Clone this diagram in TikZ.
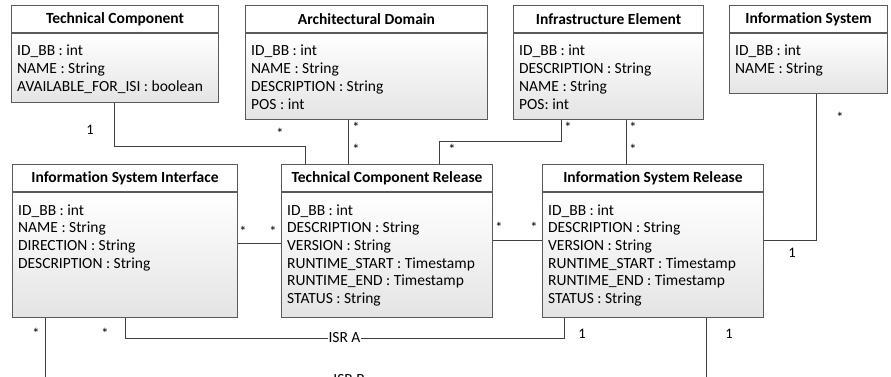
\documentclass[tikz,border=0pt]{standalone}
\usepackage{fontspec}
\setmainfont{Carlito}[Ligatures=NoCommon]
\usetikzlibrary{positioning}

\definecolor{boxline}{HTML}{5A5A5A}
\definecolor{boxshade}{HTML}{E4E4E4}
\definecolor{linecol}{HTML}{404040}

\tikzset{
  classhead/.style={draw=boxline, line width=1pt, fill=white, minimum height=27pt, inner sep=0pt,
    font=\bfseries\fontsize{15.5}{17.7}\selectfont},
  classbody/.style={draw=boxline, line width=1pt, top color=white, bottom color=boxshade, inner sep=0pt},
  classattr/.style={anchor=base west, inner sep=0pt, font=\fontsize{15.5}{17.7}\selectfont},
  assoc/.style={draw=linecol, line width=1pt},
  mult/.style={inner sep=0pt, font=\fontsize{14.5}{16}\selectfont},
  isrlabel/.style={fill=white, inner sep=0.3pt, font=\fontsize{15.5}{17}\selectfont},
}

% name, left, top, width, body height, title, attributes
\newcommand{\umlclass}[7]{%
  \node[classhead, anchor=north west, minimum width=#4pt] (#1) at (#2,#3) {#6};
  \node[classbody, anchor=north, minimum width=#4pt, minimum height=#5pt] (#1-b) at (#1.south) {};
  \node[classattr] at ([xshift=6pt,yshift=-23pt]#1-b.north west) {\parbox[t]{#4pt}{#7}};
}

\begin{document}
\begin{tikzpicture}[x=1pt,y=-1pt]
\useasboundingbox (0,0) rectangle (891,377);
\clip (0,0) rectangle (891,377);

% classes
\umlclass{tc}{11}{5}{207}{69}{Technical Component}{ID\_BB : int\\NAME : String\\AVAILABLE\_FOR\_ISI : boolean}
\umlclass{ad}{245}{5}{242}{86}{Architectural Domain}{ID\_BB : int\\NAME : String\\DESCRIPTION : String\\POS : int}
\umlclass{ie}{513}{5}{190}{86}{Infrastructure Element}{ID\_BB : int\\DESCRIPTION : String\\NAME : String\\POS: int}
\umlclass{is}{729}{5}{158}{60}{Information System}{ID\_BB : int\\NAME : String}
\umlclass{isi}{12}{164}{225}{125}{Information System Interface}{ID\_BB : int\\NAME : String\\DIRECTION : String\\DESCRIPTION : String}
\umlclass{tcr}{281}{164}{211}{125}{Technical Component Release}{ID\_BB : int\\DESCRIPTION : String\\VERSION : String\\RUNTIME\_START : Timestamp\\RUNTIME\_END : Timestamp\\STATUS : String}
\umlclass{isr}{542}{164}{221}{125}{Information System Release}{ID\_BB : int\\DESCRIPTION : String\\VERSION : String\\RUNTIME\_START : Timestamp\\RUNTIME\_END : Timestamp\\STATUS : String}

% associations
\draw[assoc] ([xshift=103pt]tc-b.south west) -- ++(0,43) -| ([xshift=24pt]tcr.north west);
\draw[assoc] ([xshift=103pt]ad-b.south west) coordinate (adc) -- (adc |- tcr.north);
\draw[assoc] ([xshift=48pt]ie-b.south west) -- ++(0,21) -| ([xshift=158pt]tcr.north west);
\draw[assoc] ([xshift=113pt]ie-b.south west) coordinate (iec) -- (iec |- isr.north);
\draw[assoc] ([xshift=87pt]is-b.south west) |- ([yshift=14.5pt]isr-b.east);
\draw[assoc] ([yshift=11.5pt]isi-b.east) -- ([yshift=11.5pt]tcr-b.west);
\draw[assoc] ([yshift=14.5pt]tcr-b.east) -- ([yshift=14.5pt]isr-b.west);
\draw[assoc] ([xshift=113pt]isi-b.south west) -- ++(0,20)
  -| node[isrlabel, pos=0.25] (isra) {ISR A} ([xshift=22pt]isr-b.south west);
\draw[assoc] ([xshift=33pt]isi-b.south west) -- ++(0,62)
  -| node[isrlabel, pos=0.23] (isrb) {ISR B} ([xshift=164pt]isr-b.south west);

% multiplicities
\node[mult] (m1) at (90,130) {1};
\node[mult] (m2) at (280,133) {*};
\node[mult] (m3) at (356,127) {*};
\node[mult] (m4) at (356,149) {*};
\node[mult] (m5) at (568,127) {*};
\node[mult] (m6) at (452,149) {*};
\node[mult] (m7) at (633,127) {*};
\node[mult] (m8) at (633,149) {*};
\node[mult] (m9) at (840,117) {*};
\node[mult] (m10) at (792,253) {1};
\node[mult] (m11) at (243,231) {*};
\node[mult] (m12) at (273,231) {*};
\node[mult] (m13) at (499,227) {*};
\node[mult] (m14) at (534,227) {*};
\node[mult] (m15) at (36,333) {*};
\node[mult] (m16) at (105,333) {*};
\node[mult] (m17) at (582,334) {1};
\node[mult] (m18) at (729,334) {1};
\end{tikzpicture}
\end{document}
